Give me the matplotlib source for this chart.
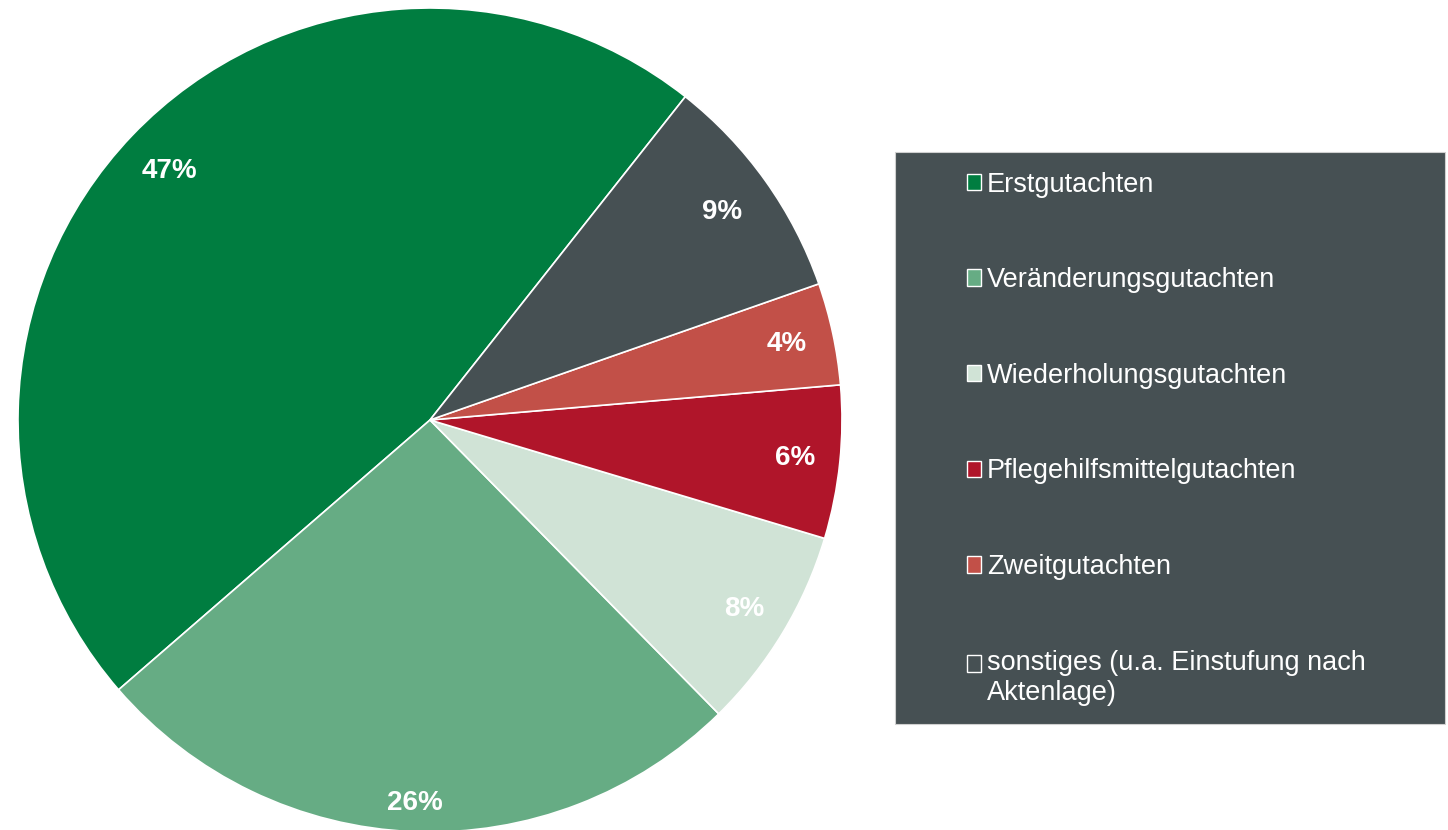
import matplotlib
matplotlib.use("Agg")
import numpy as np
import matplotlib.pyplot as plt
from matplotlib.patches import Rectangle

categories = ["Erstgutachten", "Veränderungsgutachten", "Wiederholungsgutachten",
              "Pflegehilfsmittelgutachten", "Zweitgutachten",
              "sonstiges (u.a. Einstufung nach\nAktenlage)"]
values = [47, 26, 8, 6, 4, 9]
colors = ["#007D40", "#66AC84", "#D0E3D6", "#B0152A", "#C25048", "#465053"]
label_dist = [0.875, 0.93, 0.89, 0.89, 0.885, 0.87]

plt.rcParams['font.family'] = ['Liberation Sans', 'DejaVu Sans']

W, H = 1448, 830
fig = plt.figure(figsize=(W / 100, H / 100), dpi=100)
cx, cy, R = 430, 420, 412
ax = fig.add_axes([(cx - R) / W, (H - cy - R) / H, 2 * R / W, 2 * R / H])

wedges, texts, autotexts = ax.pie(
    values, colors=colors, startangle=51.7, counterclock=True,
    autopct=lambda p: f"{p:.0f}%", pctdistance=0.88,
    wedgeprops=dict(edgecolor="white", linewidth=1.2),
    textprops=dict(color="white", fontsize=20, fontweight="bold"))
for w, t, d in zip(wedges, autotexts, label_dist):
    ang = np.deg2rad((w.theta1 + w.theta2) / 2)
    t.set_position((d * np.cos(ang), d * np.sin(ang)))
ax.set_xlim(-1, 1)
ax.set_ylim(-1, 1)
ax.set_aspect("equal")
ax.axis("off")

# legend box
bx0, by0, bx1, by1 = 895, 152, 1445, 724
fig.patches.append(Rectangle((bx0 / W, 1 - by1 / H), (bx1 - bx0) / W, (by1 - by0) / H,
                             transform=fig.transFigure, facecolor="#465053",
                             edgecolor="#d0d0d0", linewidth=0.8, zorder=0))

leg = fig.legend(wedges, categories, loc="upper left",
                 bbox_to_anchor=(953 / W, 1 - 158 / H), frameon=False,
                 fontsize=19.5, labelcolor="white", handlelength=0.55, handleheight=0.55,
                 handletextpad=0.2, labelspacing=2.57, borderpad=0)
for h in leg.legend_handles:
    h.set_edgecolor("white")
    h.set_linewidth(1.0)
# align the marker of the two-line entry with its first line
last = leg.legend_handles[-1]
last.set_y(last.get_y() + 10.5)

fig.savefig("out.png", dpi=100)
